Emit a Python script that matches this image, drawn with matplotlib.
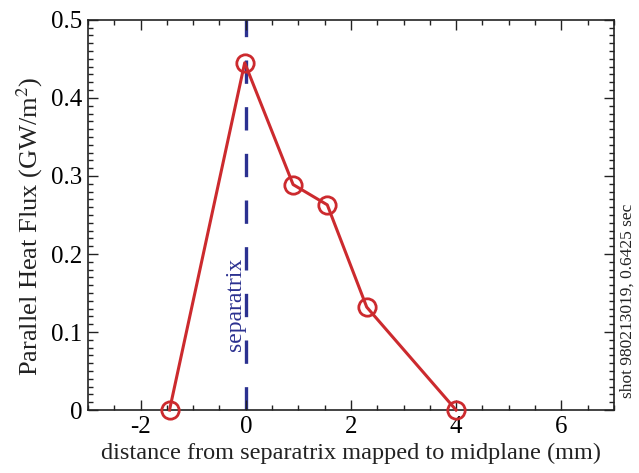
import numpy as np
import matplotlib.pyplot as plt
from matplotlib.ticker import MultipleLocator

plt.rcParams['font.family'] = ['Liberation Serif', 'DejaVu Serif']
plt.rcParams['mathtext.fontset'] = 'stix'

# Heat flux profile across the separatrix
dist_mm = [-1.45, -0.02, 0.9, 1.55, 2.3, 4.0]
q_par = [0.0, 0.445, 0.289, 0.263, 0.132, 0.0]

red = '#cc2a2e'
navy = '#2b3190'

fig = plt.figure(figsize=(6.39, 4.73), dpi=100)
ax = fig.add_axes([0.1377, 0.133, 0.823, 0.825])

# separatrix position
ax.axvline(0, color=navy, lw=2.4, dashes=(7, 7), zorder=1)
ax.text(-0.2, 0.135, 'separatrix', rotation=90, color=navy,
        fontsize=17, ha='center', va='center')

ax.plot(dist_mm, q_par, color=red, lw=2.2, marker='o', ms=12.5,
        mfc='none', mec=red, mew=2.0, zorder=3, clip_on=False)

ax.set_xlim(-3, 7)
ax.set_ylim(0, 0.5)
ax.xaxis.set_major_locator(MultipleLocator(2))
ax.xaxis.set_minor_locator(MultipleLocator(0.5))
ax.yaxis.set_major_locator(MultipleLocator(0.1))
ax.yaxis.set_minor_locator(MultipleLocator(0.01))
ax.set_yticklabels(['0' if t == 0 else f'{t:.1f}' for t in ax.get_yticks()])
ax.set_xticklabels([f'{t:g}' for t in ax.get_xticks()])

ax.tick_params(which='both', direction='in', top=True, right=True,
               labelsize=18, width=1.0, color='#222222')
ax.tick_params(which='major', length=7, pad=4)
ax.tick_params(which='minor', length=3.5)
for s in ax.spines.values():
    s.set_linewidth(1.2)
    s.set_color('#222222')

ax.set_xlabel('distance from separatrix mapped to midplane (mm)',
              fontsize=17.5, labelpad=4, color='#222222')
ax.set_ylabel('Parallel Heat Flux (GW/m$^2$)', fontsize=19,
              color='#222222')
ax.yaxis.set_label_coords(-0.082, 0.47)

fig.text(0.983, 0.363, 'shot 980213019, 0.6425 sec', rotation=90,
         fontsize=12.5, ha='center', va='center', color='#222222')

fig.savefig('out.png', dpi=100)
